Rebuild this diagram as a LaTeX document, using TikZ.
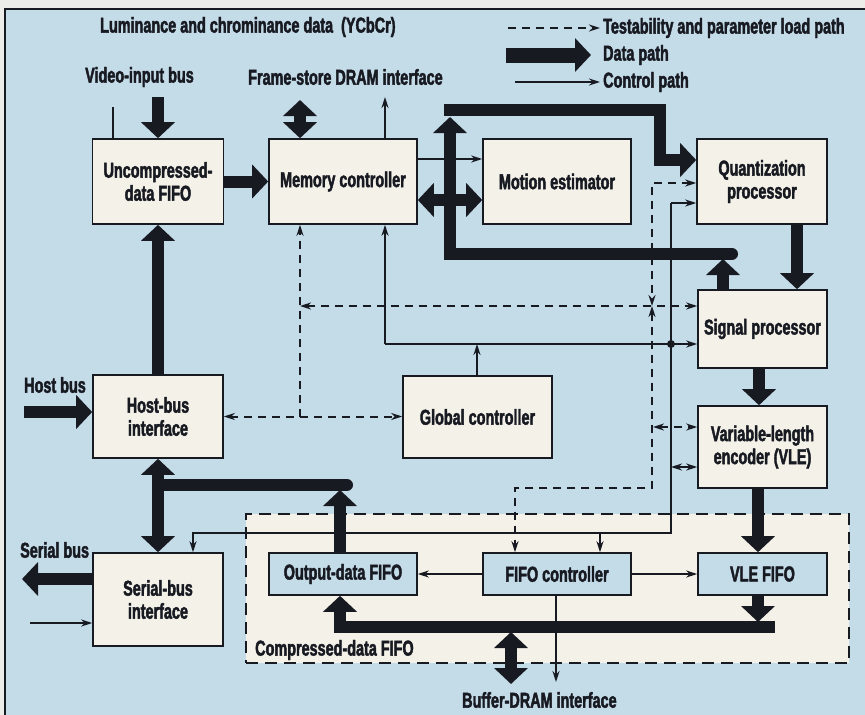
\documentclass[tikz,border=0pt]{standalone}
\usepackage{fontspec}
\setmainfont{Liberation Sans}[FakeStretch=0.67, UprightFont={* Bold}, FakeBold=2]
\usetikzlibrary{arrows.meta}
\definecolor{bg}{RGB}{196,219,232}
\definecolor{cream}{RGB}{244,241,233}
\definecolor{ink}{RGB}{24,26,34}
\definecolor{paper}{RGB}{236,236,232}
\begin{document}
\begin{tikzpicture}[x=1pt,y=-1pt,
  font=\fontsize{21.5}{23}\selectfont,
  box/.style={draw=ink, line width=1.6pt, fill=cream, text=ink, align=center, inner sep=0pt},
  ibox/.style={box, fill=bg},
  lab/.style={text=ink, inner sep=0pt, anchor=west},
  data/.style={draw=ink, line width=12pt, line join=miter, >={Triangle[length=16pt,width=33pt]}},
  ctl/.style={draw=ink, line width=1.5pt, >={Stealth[length=11pt,width=7pt]}},
  tst/.style={draw=ink, line width=2pt, dash pattern=on 8pt off 6pt, >={Stealth[length=11pt,width=7pt]}}]
\useasboundingbox (0,0) rectangle (865,715);
\fill[paper] (0,0) rectangle (865,715);
\fill[bg] (5,9) rectangle (865,715);
\draw[ink, line width=2pt] (5,715) -- (5,9) -- (865,9);

% compressed-data FIFO region
\node[draw=ink, line width=2pt, dash pattern=on 12pt off 7pt, fill=cream, minimum width=603pt, minimum height=149pt, inner sep=0pt] (cfifo) at (547.5,588.5) {};
\node[lab] (cfl) at (255,650) {Compressed-data FIFO};

% boxes
\node[box, minimum width=131pt, minimum height=85pt] (ufifo) at (158,181.5) {Uncompressed-\\data FIFO};
\node[box, minimum width=148pt, minimum height=85pt] (mem) at (343,181.5) {Memory controller};
\node[box, minimum width=148pt, minimum height=85pt] (mot) at (557,181.5) {Motion estimator};
\node[box, minimum width=130pt, minimum height=85pt] (quant) at (762,181.5) {Quantization\\processor};
\node[box, minimum width=129pt, minimum height=78pt] (sig) at (762.5,329) {Signal processor};
\node[box, minimum width=129pt, minimum height=82pt] (vle) at (762.5,447) {Variable-length\\encoder (VLE)};
\node[box, minimum width=130pt, minimum height=83pt] (host) at (158,416.5) {Host-bus\\interface};
\node[box, minimum width=149pt, minimum height=82pt] (glob) at (477.5,417) {Global controller};
\node[box, minimum width=130pt, minimum height=93pt] (serial) at (158,599.5) {Serial-bus\\interface};
\node[ibox, minimum width=148pt, minimum height=42pt] (ofifo) at (343,574) {Output-data FIFO};
\node[ibox, minimum width=148pt, minimum height=42pt] (fctl) at (557,574) {FIFO controller};
\node[ibox, minimum width=129pt, minimum height=42pt] (vfifo) at (762.5,574) {VLE FIFO};

% text labels
\node[lab] (lum) at (100,27) {Luminance and chrominance data\ \ (YCbCr)};
\node[lab] (vib) at (85,77) {Video-input bus};
\node[lab] (fsd) at (248,77) {Frame-store DRAM interface};
\node[lab] (hbl) at (24,385) {Host bus};
\node[lab] (sbl) at (20,550) {Serial bus};
\node[lab] (bdl) at (462,700) {Buffer-DRAM interface};

% legend
\coordinate (l1a) at (508,28); \coordinate (l1b) at (600,28);
\draw[tst,->] (l1a) -- (l1b);
\node[lab] (lt1) at (603,28) {Testability and parameter load path};
\coordinate (l2a) at (506,55); \coordinate (l2b) at (591,55);
\draw[data, line width=15pt, ->] (l2a) -- (l2b);
\node[lab] (lt2) at (603,55) {Data path};
\coordinate (l3a) at (515,82); \coordinate (l3b) at (600,82);
\draw[ctl,->] (l3a) -- (l3b);
\node[lab] (lt3) at (603,82) {Control path};

% thick loop (signal processor -> quantization)
\coordinate (s1) at (723,259);
\draw[data,->] (s1 |- sig.north) -- (s1);
\coordinate (lp1) at (732,254); \coordinate (lp2) at (450,254); \coordinate (lp3) at (450,117);
\draw[data,->,line cap=round] (lp1) -- (lp2) -- (lp3);
\coordinate (tp1) at (444,110); \coordinate (tp2) at (660,110); \coordinate (tp3) at (660,160);
\draw[data,->] (tp1) -- (tp2) -- (tp3) -- (tp3 -| quant.west);
\coordinate (md) at (445,200); \draw[data,->] (md) -- (md -| mem.east);
\coordinate (me) at (455,200); \draw[data,->] (me) -- (me -| mot.west);

% other data paths
\coordinate (vin) at (158,97); \draw[data,->] (vin) -- (ufifo.north);
\draw[data,->] (ufifo.east) -- (mem.west);
\coordinate (fs) at (300,100); \draw[data,<->] (fs) -- (fs |- mem.north);
\draw[data,->] (host.north) -- (ufifo.south);
\coordinate (hb) at (24,412); \draw[data,->] (hb) -- (hb -| host.west);
\draw[data,<->] (host.south) -- (serial.north);
\coordinate (br1) at (158,485); \coordinate (br2) at (347,485);
\draw[data,line cap=round] (br1) -- (br2);
\coordinate (of1) at (340,490); \draw[data,->] (of1 |- ofifo.north) -- (of1);
\coordinate (sb) at (22,579); \draw[data,->] (sb -| serial.west) -- (sb);
\coordinate (qs) at (797,250); \draw[data,->] (qs |- quant.south) -- (qs |- sig.north);
\coordinate (sv) at (759,380); \draw[data,->] (sv |- sig.south) -- (sv |- vle.north);
\coordinate (vv) at (758,520); \draw[data,->] (vv |- vle.south) -- (vv |- vfifo.north);
\coordinate (vb) at (758,622); \draw[data,->] (vb |- vfifo.south) -- (vb);
\coordinate (bb1) at (775,627); \coordinate (bb2) at (340,627);
\draw[data,->] (bb1) -- (bb2) -- (bb2 |- ofifo.south);
\coordinate (bd1) at (511,632); \coordinate (bd2) at (511,684);
\draw[data,<->] (bd1) -- (bd2);

% control paths
\coordinate (vin2) at (113,107); \draw[ctl] (vin2) -- (vin2 |- ufifo.north);
\coordinate (fsc) at (385,97); \draw[ctl,->] (fsc |- mem.north) -- (fsc);
\coordinate (mm) at (417,159); \draw[ctl,->] (mm -| mem.east) -- (mm -| mot.west);
\coordinate (sin) at (30,623); \draw[ctl,->] (sin) -- (sin -| serial.west);
\coordinate (cbt) at (671,203); \coordinate (cb2) at (671,533); \coordinate (cb1) at (193,533);
\draw[ctl,->] (cbt) -- (cbt -| quant.west);
\draw[ctl,->] (cbt) -- (cb2) -- (cb1) -- (cb1 |- serial.north);
\coordinate (cb3) at (600,533); \draw[ctl,->] (cb3) -- (cb3 |- fctl.north);
\coordinate (cl) at (385,344);
\draw[ctl,->] (cl) -- (cl |- mem.south);
\draw[ctl,->] (cl) -- (cl -| sig.west);
\coordinate (gc) at (477,344); \draw[ctl,->] (gc |- glob.north) -- (gc);
\coordinate (dot) at (671,344); \fill[ink] (dot) circle (4pt);
\coordinate (vl2) at (671,467); \draw[ctl,<->] (vl2) -- (vl2 -| vle.west);
\coordinate (fc) at (556,682); \draw[ctl,->] (fc |- fctl.south) -- (fc);
\draw[ctl,->] (fctl.west) -- (ofifo.east);
\draw[ctl,->] (fctl.east) -- (vfifo.west);

% testability paths
\draw[tst,<->] (host.east) -- (host.east -| glob.west);
\coordinate (d1) at (300,416.5); \draw[tst,->] (d1) -- (d1 |- mem.south);
\coordinate (d2) at (300,306); \draw[tst,<->] (d2) -- (d2 -| sig.west);
\coordinate (dq) at (652,183); \coordinate (d3) at (652,306);
\draw[tst,<->] (dq -| quant.west) -- (dq) -- (d3);
\coordinate (d4) at (652,488); \coordinate (d5) at (515,488);
\draw[tst,<->] (d3) -- (d4) -- (d5) -- (d5 |- fctl.north);
\coordinate (dv) at (653,427); \draw[tst,<->] (dv) -- (dv -| vle.west);
\end{tikzpicture}
\end{document}
